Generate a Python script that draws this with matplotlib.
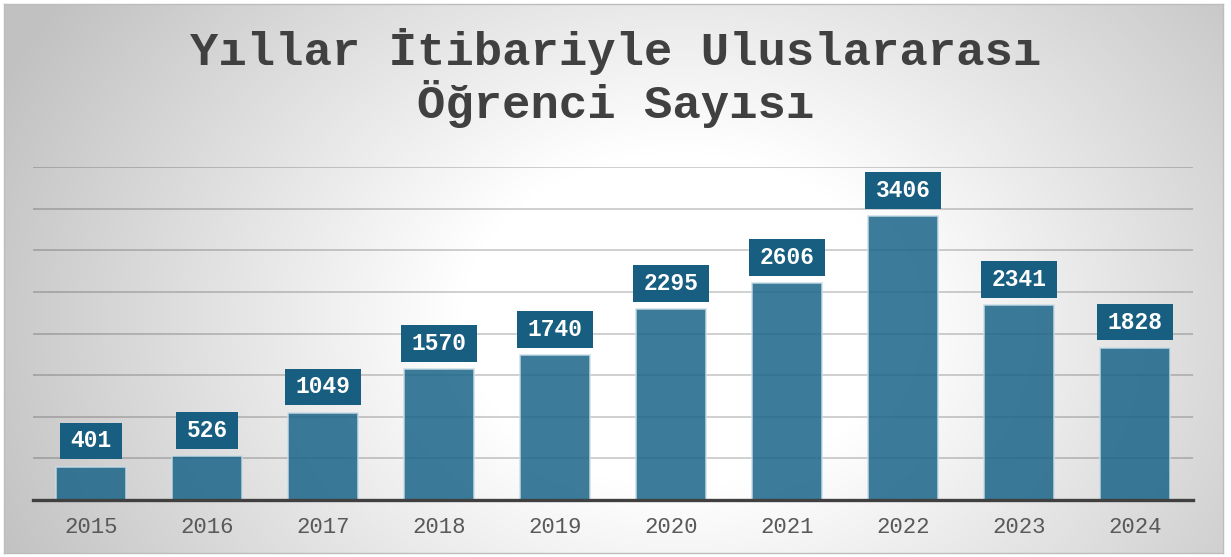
import numpy as np
import matplotlib.pyplot as plt
from matplotlib.path import Path

# data
years = ['2015', '2016', '2017', '2018', '2019', '2020', '2021', '2022', '2023', '2024']
students = [401, 526, 1049, 1570, 1740, 2295, 2606, 3406, 2341, 1828]
title = 'Yıllar İtibariyle Uluslararası\nÖğrenci Sayısı'

W, H = 1231, 557
fig = plt.figure(figsize=(W / 100, H / 100), dpi=100)
fig.patch.set_facecolor('white')

#background panel with radial gradient
bg = fig.add_axes([4 / W, 4 / H, 1219 / W, 549 / H])
gx, gy = np.meshgrid(np.linspace(4, 1223, 600), np.linspace(4, 553, 280))
d = np.sqrt((gx - 680) ** 2 + ((gy - 320) * 1.3) ** 2)
frac = np.clip((d - 220) / 530, 0, 1)
shade = 255 - 62 * frac
img = np.dstack([shade, shade, shade]) / 255
bg.imshow(img, extent=[0, 1, 0, 1], aspect='auto', origin='upper')
bg.set_xticks([])
bg.set_yticks([])
for s in bg.spines.values():
    s.set_color('#bdbdbd')
    s.set_linewidth(1)

#main axes
ax = fig.add_axes([33 / W, 57 / H, 1160 / W, 333 / H])
ax.set_facecolor('none')
x = np.arange(len(years))
ax.set_xlim(-0.5, len(years) - 0.5)
ax.set_ylim(0, 4000)
ax.set_yticks(np.arange(500, 4001, 500))
ax.yaxis.grid(True, color='black', alpha=0.2, linewidth=1.3)
ax.set_axisbelow(True)
ax.tick_params(axis='y', left=False, labelleft=False)
ax.tick_params(axis='x', length=0, pad=12)
for s in ['top', 'right', 'left']:
    ax.spines[s].set_visible(False)
ax.spines['bottom'].set_color('#404040')
ax.spines['bottom'].set_linewidth(2.4)

ax.bar(x, students, width=0.6, color='#1a6488', alpha=0.85,
       edgecolor='#c9dde6', linewidth=1.2, zorder=2)
ax.set_xticks(x)
ax.set_xticklabels(years, fontfamily='Liberation Mono', fontsize=16, color='#595959')

#label box with separate horizontal / vertical padding
def label_box(x0, y0, width, height, mutation_size):
    px = 0.45 * mutation_size
    py = 0.3 * mutation_size
    x0, y0 = x0 - px, y0 - py
    x1, y1 = x0 + width + 2 * px, y0 + height + 2 * py
    return Path([(x0, y0), (x1, y0), (x1, y1), (x0, y1), (x0, y0)], closed=True)

for xi, v in zip(x, students):
    ax.annotate(str(v), (xi, v), xytext=(0, 18.5), textcoords='offset points',
                ha='center', va='center', fontfamily='Liberation Mono',
                fontweight='bold', fontsize=16.5, color='white', zorder=4,
                bbox=dict(boxstyle=label_box, facecolor='#175e80', edgecolor='none'))

fig.text(0.5, 1 - 78 / H, title, ha='center', va='center', fontfamily='Liberation Mono',
         fontweight='bold', fontsize=34, color='#404040', linespacing=1.15)

fig.savefig('out.png', dpi=100)
